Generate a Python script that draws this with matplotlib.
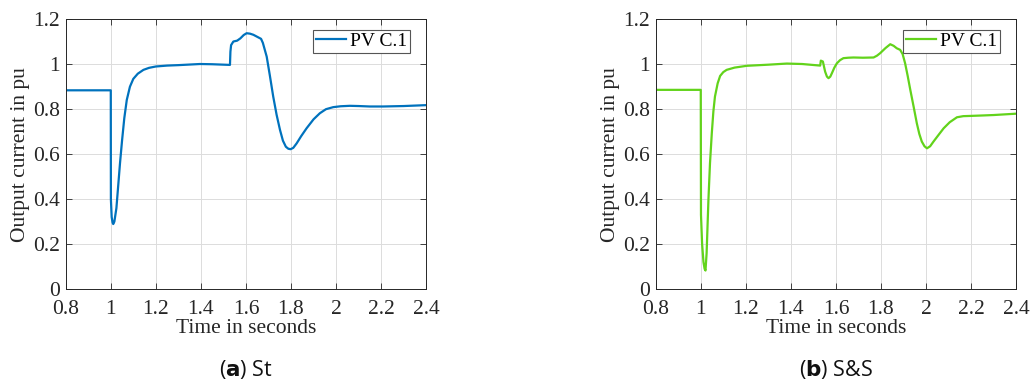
import numpy as np
import matplotlib
matplotlib.use("Agg")
import matplotlib.pyplot as plt

# ---------------- data ----------------
# (a) St
t_st = [0.8, 1.0, 1.0005, 1.004, 1.008, 1.011, 1.016, 1.025, 1.033, 1.041, 1.05, 1.06,
        1.071, 1.085, 1.100, 1.12, 1.145, 1.17, 1.2, 1.25, 1.3, 1.396, 1.45, 1.529,
        1.531, 1.534, 1.544, 1.561, 1.575, 1.59, 1.603, 1.618, 1.633, 1.65, 1.667,
        1.675, 1.692, 1.706, 1.721, 1.736, 1.751, 1.764, 1.777, 1.788, 1.798, 1.81,
        1.825, 1.845, 1.869, 1.9, 1.928, 1.955, 1.987, 2.02, 2.061, 2.1, 2.15,
        2.209, 2.3, 2.4]
i_st = [0.884, 0.884, 0.40, 0.32, 0.295, 0.289, 0.30, 0.36, 0.46, 0.56, 0.66, 0.76,
        0.841, 0.90, 0.935, 0.958, 0.975, 0.984, 0.990, 0.994, 0.996, 1.001, 1.000, 0.997,
        1.056, 1.085, 1.101, 1.105, 1.115, 1.130, 1.138, 1.136, 1.131, 1.122, 1.113,
        1.095, 1.034, 0.95, 0.856, 0.775, 0.708, 0.66, 0.633, 0.624, 0.622, 0.628,
        0.648, 0.680, 0.715, 0.755, 0.782, 0.800, 0.809, 0.813, 0.815, 0.814, 0.812,
        0.812, 0.814, 0.818]

# (b) S&S
t_ss = [0.8, 1.0, 1.001, 1.006, 1.012, 1.017, 1.021, 1.026, 1.034, 1.041, 1.049,
        1.056, 1.063, 1.075, 1.086, 1.1, 1.115, 1.15, 1.204, 1.3, 1.382, 1.45, 1.53,
        1.533, 1.542, 1.552, 1.560, 1.567, 1.575, 1.582, 1.593, 1.604, 1.618, 1.633,
        1.655, 1.678, 1.72, 1.767, 1.782, 1.796, 1.82, 1.841, 1.856, 1.870, 1.885,
        1.896, 1.907, 1.918, 1.930, 1.945, 1.959, 1.970, 1.981, 1.993, 2.004, 2.018,
        2.033, 2.055, 2.078, 2.105, 2.137, 2.165, 2.196, 2.25, 2.300, 2.35, 2.4]
i_ss = [0.886, 0.886, 0.33, 0.20, 0.12, 0.09, 0.082, 0.16, 0.396, 0.56, 0.693,
        0.79, 0.856, 0.915, 0.948, 0.965, 0.975, 0.985, 0.993, 0.998, 1.003, 1.001, 0.994,
        1.016, 1.012, 0.967, 0.945, 0.938, 0.945, 0.960, 0.985, 1.004, 1.018, 1.027,
        1.029, 1.030, 1.029, 1.030, 1.038, 1.049, 1.072, 1.089, 1.082, 1.071, 1.064,
        1.045, 1.004, 0.95, 0.886, 0.81, 0.737, 0.69, 0.656, 0.635, 0.626, 0.635,
        0.656, 0.685, 0.715, 0.742, 0.764, 0.769, 0.770, 0.772, 0.774, 0.777, 0.780]

panels = [(t_st, i_st, "#0072BD", "a", "St"),
          (t_ss, i_ss, "#62D31B", "b", "S&S")]
x_ticks = [0.8, 1, 1.2, 1.4, 1.6, 1.8, 2, 2.2, 2.4]
y_ticks = [0, 0.2, 0.4, 0.6, 0.8, 1, 1.2]

plt.rcParams["font.family"] = ["Liberation Serif", "DejaVu Serif"]
fig = plt.figure(figsize=(10.30, 3.92), dpi=100)
lefts = [0.0638, 0.6366]

for left, (t, i, col, letter, name) in zip(lefts, panels):
    ax = fig.add_axes([left, 0.2628, 0.350, 0.688])
    ax.plot(t, i, color=col, lw=1.6, label="PV C.1")
    ax.set_xlim(0.8, 2.4)
    ax.set_ylim(0, 1.2)
    ax.set_xticks(x_ticks)
    ax.set_xticklabels([f"{v:g}" for v in x_ticks])
    ax.set_yticks(y_ticks)
    ax.set_yticklabels([f"{v:g}" for v in y_ticks])
    ax.tick_params(direction="in", top=True, right=True, labelsize=15.5,
                   colors="#262626", length=4, width=0.6)
    ax.tick_params(axis="x", pad=8)
    ax.tick_params(axis="y", pad=4)
    for s in ax.spines.values():
        s.set_color("#262626")
        s.set_linewidth(0.7)
    ax.grid(True, color="#dcdcdc", lw=0.7)
    ax.set_axisbelow(True)
    ax.set_xlabel("Time in seconds", fontsize=15.5, color="#262626", labelpad=0)
    ax.set_ylabel("Output current in pu", fontsize=15.5, color="#262626", labelpad=2)
    leg = ax.legend(loc="upper right", bbox_to_anchor=(0.955, 0.962),
                    borderaxespad=0, fontsize=14, fancybox=False,
                    handlelength=1.55, handletextpad=0.2,
                    framealpha=1, borderpad=0.15)
    leg.get_frame().set_edgecolor("#555555")
    leg.get_frame().set_linewidth(0.8)
    ax.text(0.5, -0.30, rf"($\mathbf{{{letter}}}$) {name}", transform=ax.transAxes,
            ha="center", va="center", fontsize=15.5, color="#111111",
            family=["Open Sans", "DejaVu Sans"])

fig.savefig("out.png", dpi=100)
